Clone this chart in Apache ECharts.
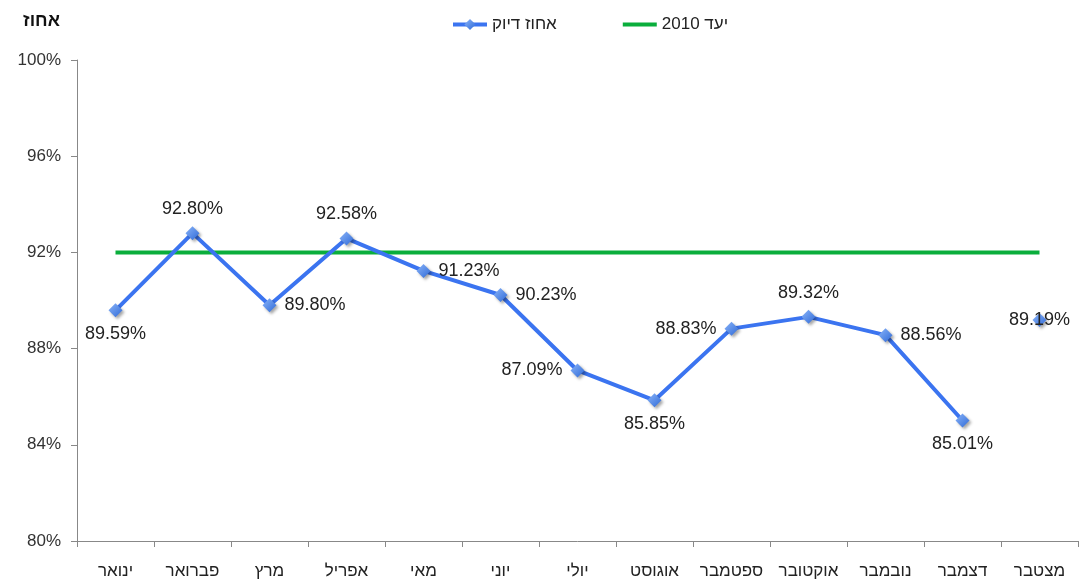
<!DOCTYPE html>
<html>
<head>
<meta charset="utf-8">
<script src="https://cdn.jsdelivr.net/npm/echarts@6/dist/echarts.min.js"></script>
<style>
html,body{margin:0;padding:0;background:#fff;}
#chart{width:1079px;height:583px;}
</style>
</head>
<body>
<div id="chart"></div>
<script>
// months + cumulative
var months = ['ינואר','פברואר','מרץ','אפריל','מאי','יוני','יולי','אוגוסט','ספטמבר','אוקטובר','נובמבר','דצמבר','מצטבר'];
var accuracy = [89.59, 92.80, 89.80, 92.58, 91.23, 90.23, 87.09, 85.85, 88.83, 89.32, 88.56, 85.01, null];
var cumulative = [null, null, null, null, null, null, null, null, null, null, null, null, 89.19];
var target = [92, 92, 92, 92, 92, 92, 92, 92, 92, 92, 92, 92, 92];
var labelPos = ['bottom','top','right','top','right','right','left','bottom','left','top','right','bottom'];

var blue = '#3b74f0';
var green = '#0aae3c';
var marker = {
    color: new echarts.graphic.LinearGradient(0,0,1,1,[{offset:0,color:'#8ab4f8'},{offset:1,color:'#2f6ad8'}]),
    shadowColor:'rgba(0,0,0,0.35)', shadowBlur:3, shadowOffsetX:2, shadowOffsetY:2
};
var font = 'Arial, "Liberation Sans", "DejaVu Sans", sans-serif';

var chart = echarts.init(document.getElementById('chart'));

var accData = accuracy.map(function(v,i){
    if(v===null) return null;
    return {value:v, label:{position:labelPos[i]}};
});

chart.setOption({
    animation:false,
    textStyle:{fontFamily:font},
    grid:{left:77, right:1, top:60, bottom:42, containLabel:false},
    legend:{
        top:11, left:446, itemGap:64, itemWidth:34, itemHeight:14,
        textStyle:{fontSize:17, color:'#222', fontFamily:font},
        data:[
            {name:'אחוז דיוק', lineStyle:{width:4}},
            {name:'יעד 2010', lineStyle:{width:4}, itemStyle:{opacity:0}}
        ]
    },
    xAxis:{
        type:'category', data:months, boundaryGap:true,
        axisLine:{lineStyle:{color:'#888'}},
        axisTick:{show:true, length:6, lineStyle:{color:'#888'}},
        axisLabel:{fontSize:17, color:'#222', margin:22, interval:0}
    },
    yAxis:{
        type:'value', min:80, max:100, interval:4,
        name:'אחוז', nameLocation:'end', nameGap:30,
        nameTextStyle:{fontSize:18, fontWeight:'bold', color:'#111', align:'right', padding:[0,17,0,0]},
        axisLine:{show:true, lineStyle:{color:'#888'}},
        axisTick:{show:true, length:6, lineStyle:{color:'#888'}},
        splitLine:{show:false},
        axisLabel:{fontSize:17, color:'#333', formatter:'{value}%', margin:16}
    },
    series:[
        {
            name:'יעד 2010', type:'line', data:target, symbol:'none',
            lineStyle:{color:green, width:4}, itemStyle:{color:green}, z:1
        },
        {
            name:'אחוז דיוק', type:'line', data:accData, connectNulls:false,
            symbol:'diamond', symbolSize:14,
            lineStyle:{color:blue, width:4}, itemStyle:marker,
            label:{show:true, fontSize:18, color:'#222', distance:8,
                formatter:function(p){return p.value.toFixed(2)+'%';}},
            z:3
        },
        {
            name:'מצטבר', type:'line', data:cumulative, symbol:'diamond', symbolSize:14,
            itemStyle:marker, lineStyle:{width:0},
            label:{show:true, position:'inside', fontSize:18, color:'#222',
                formatter:function(p){return p.value.toFixed(2)+'%';}},
            z:3
        }
    ]
});
</script>
</body>
</html>
